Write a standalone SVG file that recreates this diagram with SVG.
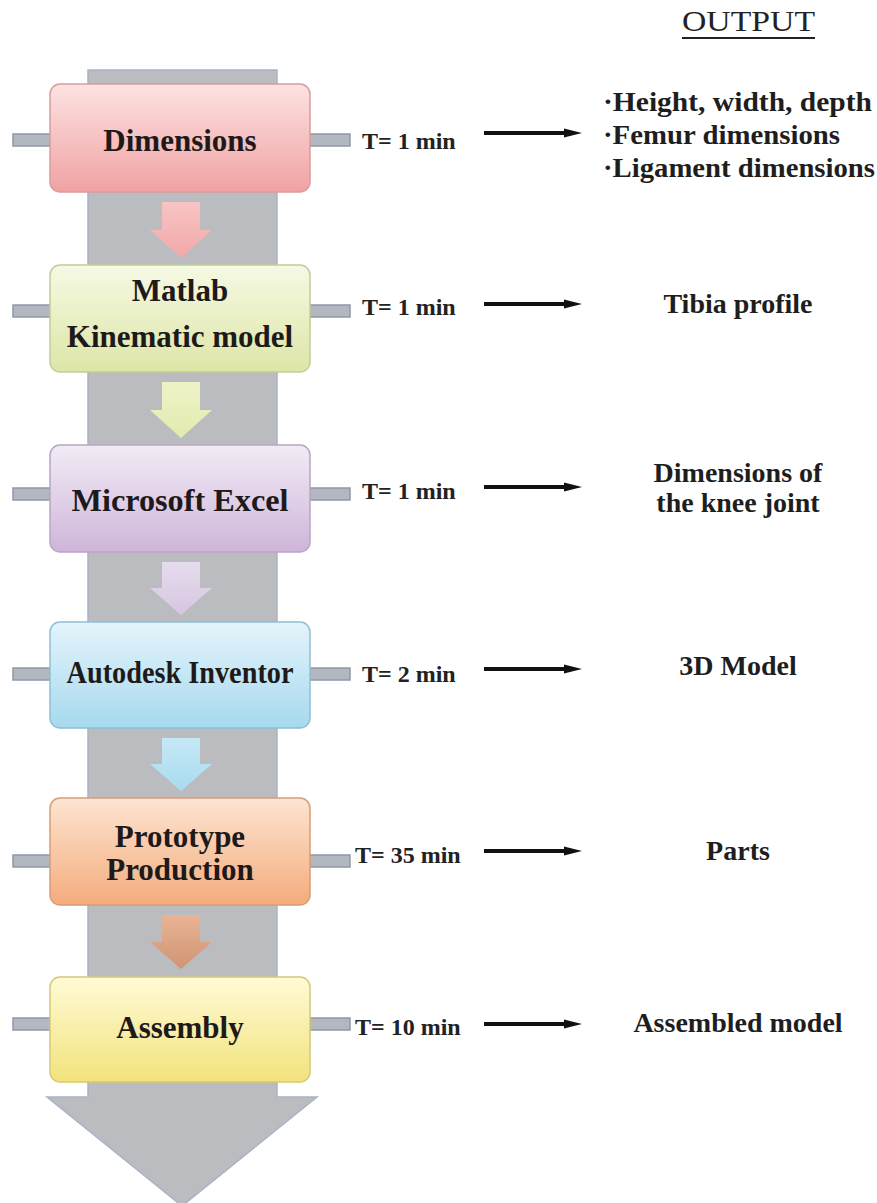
<svg xmlns="http://www.w3.org/2000/svg" width="877" height="1203" viewBox="0 0 877 1203">
<style>
.lbl{font-family:"Liberation Serif","Times New Roman",serif;font-weight:bold;font-size:31px;fill:#1e1a1a;text-anchor:middle}
.t{font-family:"Liberation Serif","Times New Roman",serif;font-weight:bold;font-size:24px;fill:#222}
.out{font-family:"Liberation Serif","Times New Roman",serif;font-weight:bold;font-size:28px;fill:#1e1e1e;text-anchor:middle}
.bul{font-family:"Liberation Serif","Times New Roman",serif;font-weight:bold;font-size:28px;fill:#1e1e1e}
.stub{fill:#b3b7bf;stroke:#8e98aa;stroke-width:1.5}
.box{stroke-width:1.5}
.conn{stroke:#111;stroke-width:4;fill:none;marker-end:url(#ah)}
</style>
<defs>
<marker id="ah" markerUnits="userSpaceOnUse" markerWidth="18" markerHeight="12" refX="2" refY="6" orient="auto">
<path d="M0,1.5 L18,6 L0,10.5 Z" fill="#111"/>
</marker>
<linearGradient id="gPink" x1="0" y1="0" x2="0" y2="1"><stop offset="0" stop-color="#fde2e2"/><stop offset="1" stop-color="#f0a2a2"/></linearGradient>
<linearGradient id="gGreen" x1="0" y1="0" x2="0" y2="1"><stop offset="0" stop-color="#f6f9e4"/><stop offset="1" stop-color="#dde6a6"/></linearGradient>
<linearGradient id="gPurple" x1="0" y1="0" x2="0" y2="1"><stop offset="0" stop-color="#f1ebf5"/><stop offset="1" stop-color="#cfb6da"/></linearGradient>
<linearGradient id="gBlue" x1="0" y1="0" x2="0" y2="1"><stop offset="0" stop-color="#e4f4fb"/><stop offset="1" stop-color="#a6d9ee"/></linearGradient>
<linearGradient id="gOrange" x1="0" y1="0" x2="0" y2="1"><stop offset="0" stop-color="#fde4d2"/><stop offset="1" stop-color="#f4ac7c"/></linearGradient>
<linearGradient id="gYellow" x1="0" y1="0" x2="0" y2="1"><stop offset="0" stop-color="#fffad6"/><stop offset="1" stop-color="#f2e37c"/></linearGradient>
<linearGradient id="aPink" x1="0" y1="0" x2="0" y2="1"><stop offset="0" stop-color="#f8c4c4"/><stop offset="1" stop-color="#f2a8a8"/></linearGradient>
<linearGradient id="aGreen" x1="0" y1="0" x2="0" y2="1"><stop offset="0" stop-color="#eef3c8"/><stop offset="1" stop-color="#e2eaae"/></linearGradient>
<linearGradient id="aPurple" x1="0" y1="0" x2="0" y2="1"><stop offset="0" stop-color="#e6dcee"/><stop offset="1" stop-color="#d6c6e0"/></linearGradient>
<linearGradient id="aBlue" x1="0" y1="0" x2="0" y2="1"><stop offset="0" stop-color="#c6e8f6"/><stop offset="1" stop-color="#a8dbef"/></linearGradient>
<linearGradient id="aOrange" x1="0" y1="0" x2="0" y2="1"><stop offset="0" stop-color="#e9b494"/><stop offset="1" stop-color="#cf9474"/></linearGradient>
</defs>
<rect width="877" height="1203" fill="#ffffff"/>

<g id="main-arrow">
<path d="M88,70 H277 V1097 H317 L182,1206 L47,1097 H88 Z" fill="#babcbf" stroke="#a9b3c6" stroke-width="1.5"/>
</g>

<g id="flow-arrows">
<path d="M162,202 H200 V230 H212 L181,258 L150,230 H162 Z" fill="url(#aPink)"/>
<path d="M162,382 H200 V410 H212 L181,438 L150,410 H162 Z" fill="url(#aGreen)"/>
<path d="M162,562 H200 V588 H212 L181,615 L150,588 H162 Z" fill="url(#aPurple)"/>
<path d="M162,738 H200 V764 H212 L181,791 L150,764 H162 Z" fill="url(#aBlue)"/>
<path d="M162,915 H200 V942 H212 L181,969 L150,942 H162 Z" fill="url(#aOrange)"/>
</g>

<g id="stubs">
<rect class="stub" x="13" y="134" width="38" height="12"/><rect class="stub" x="309" y="134" width="41" height="12"/>
<rect class="stub" x="13" y="305" width="38" height="12"/><rect class="stub" x="309" y="305" width="41" height="12"/>
<rect class="stub" x="13" y="488" width="38" height="12"/><rect class="stub" x="309" y="488" width="41" height="12"/>
<rect class="stub" x="13" y="668" width="38" height="12"/><rect class="stub" x="309" y="668" width="41" height="12"/>
<rect class="stub" x="13" y="855" width="38" height="12"/><rect class="stub" x="309" y="855" width="41" height="12"/>
<rect class="stub" x="13" y="1018" width="38" height="12"/><rect class="stub" x="309" y="1018" width="41" height="12"/>
</g>

<g id="node-dimensions">
<rect class="box" x="50" y="84" width="260" height="108" rx="10" fill="url(#gPink)" stroke="#d99c9c"/>
<text class="lbl" x="180" y="151">Dimensions</text>
</g>
<g id="node-matlab">
<rect class="box" x="50" y="265" width="260" height="107" rx="10" fill="url(#gGreen)" stroke="#c4cc98"/>
<text class="lbl" x="180" y="301">Matlab</text>
<text class="lbl" x="180" y="347">Kinematic model</text>
</g>
<g id="node-excel">
<rect class="box" x="50" y="445" width="260" height="107" rx="10" fill="url(#gPurple)" stroke="#b8a6c4"/>
<text class="lbl" x="180" y="511" textLength="217" lengthAdjust="spacingAndGlyphs">Microsoft Excel</text>
</g>
<g id="node-autodesk">
<rect class="box" x="50" y="622" width="260" height="106" rx="10" fill="url(#gBlue)" stroke="#90bfd4"/>
<text class="lbl" x="180" y="683" textLength="227" lengthAdjust="spacingAndGlyphs">Autodesk Inventor</text>
</g>
<g id="node-prototype">
<rect class="box" x="50" y="798" width="260" height="107" rx="10" fill="url(#gOrange)" stroke="#d99c76"/>
<text class="lbl" x="180" y="847" font-size="29">Prototype</text>
<text class="lbl" x="180" y="880" font-size="29">Production</text>
</g>
<g id="node-assembly">
<rect class="box" x="50" y="977" width="260" height="105" rx="10" fill="url(#gYellow)" stroke="#d6c878"/>
<text class="lbl" x="180" y="1038">Assembly</text>
</g>

<g id="times">
<text class="t" x="362" y="149">T= 1 min</text>
<text class="t" x="362" y="315">T= 1 min</text>
<text class="t" x="362" y="499">T= 1 min</text>
<text class="t" x="362" y="682">T= 2 min</text>
<text class="t" x="355" y="863">T= 35 min</text>
<text class="t" x="355" y="1035">T= 10 min</text>
</g>

<g id="connectors">
<line class="conn" x1="484" y1="133" x2="566" y2="133"/>
<line class="conn" x1="484" y1="304" x2="566" y2="304"/>
<line class="conn" x1="484" y1="487" x2="566" y2="487"/>
<line class="conn" x1="484" y1="669" x2="566" y2="669"/>
<line class="conn" x1="484" y1="851" x2="566" y2="851"/>
<line class="conn" x1="484" y1="1024" x2="566" y2="1024"/>
</g>

<g id="outputs">
<text x="682" y="31" font-family="Liberation Serif, Times New Roman, serif" font-size="30" fill="#222" textLength="133" lengthAdjust="spacingAndGlyphs">OUTPUT</text>
<line x1="682" y1="38" x2="815" y2="38" stroke="#222" stroke-width="2"/>
<text class="bul" x="603" y="111" textLength="269" lengthAdjust="spacingAndGlyphs">·Height, width, depth</text>
<text class="bul" x="603" y="144" textLength="237" lengthAdjust="spacingAndGlyphs">·Femur dimensions</text>
<text class="bul" x="603" y="177" textLength="272" lengthAdjust="spacingAndGlyphs">·Ligament dimensions</text>
<text class="out" x="738" y="313">Tibia profile</text>
<text class="out" x="738" y="482">Dimensions of</text>
<text class="out" x="738" y="512">the knee joint</text>
<text class="out" x="738" y="675">3D Model</text>
<text class="out" x="738" y="860">Parts</text>
<text class="out" x="738" y="1032">Assembled model</text>
</g>
</svg>
